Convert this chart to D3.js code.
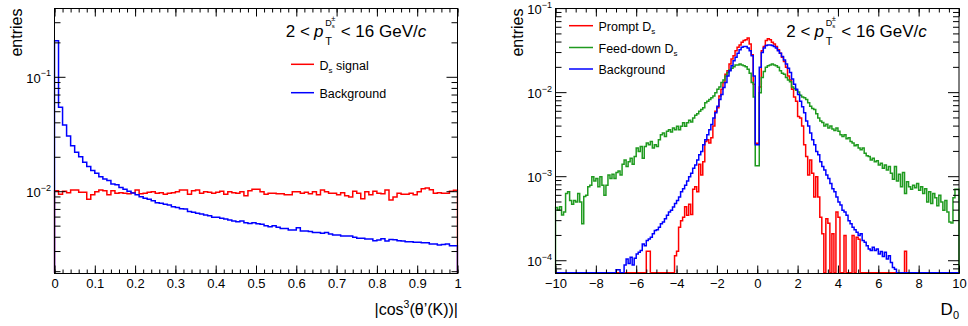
<!DOCTYPE html>
<html><head><meta charset="utf-8">
<script src="https://cdn.jsdelivr.net/npm/d3@7"></script>
<style>
body{margin:0;background:#fff}
svg{display:block;font-family:"Liberation Sans",Arial,Helvetica,sans-serif}
</style></head><body>
<svg id="c" width="968" height="326"></svg>
<script>
// ---------------- DATA ----------------
// Left panel: |cos^3(theta'(K))|, 100 bins in [0,1]
const leftXDomain = [0, 1];
const leftSignal = [
 0.0102,0.0095,0.0101,0.0098,0.01035,0.01035,0.0099,0.0099,0.0086,0.0094,
 0.0100,0.01035,0.0102,0.0094,0.0102,0.0097,0.0098,0.0097,0.0096,0.0098,
 0.01035,0.0096,0.0097,0.0099,0.0100,0.0097,0.0098,0.0095,0.0097,0.0098,
 0.0100,0.01035,0.01035,0.0095,0.0102,0.01035,0.0097,0.0100,0.0099,0.0097,
 0.0099,0.0101,0.0095,0.0100,0.0098,0.0097,0.0100,0.0092,0.0102,0.0105,
 0.0105,0.0100,0.0095,0.0097,0.0097,0.0096,0.0096,0.0094,0.0094,0.0100,
 0.0100,0.0097,0.0099,0.0096,0.0100,0.0094,0.01035,0.0100,0.0097,0.0097,
 0.0094,0.0098,0.0092,0.0090,0.0101,0.0097,0.0087,0.0100,0.0094,0.0101,
 0.0097,0.0096,0.01035,0.00845,0.0090,0.0097,0.0095,0.0095,0.0097,0.0094,
 0.0100,0.0106,0.0108,0.0104,0.0097,0.0098,0.0097,0.0097,0.0101,0.0103
];
const leftBackground = [
 0.209,0.0547,0.0383,0.0307,0.0252,0.0221,0.0202,0.0181,0.0166,0.0153,
 0.0145,0.0135,0.0129,0.0125,0.0117,0.0115,0.0109,0.0105,0.0101,0.00975,
 0.0094,0.00905,0.00875,0.00858,0.00835,0.0080,0.00794,0.00776,0.00766,0.0074,
 0.00726,0.00711,0.00707,0.0067,0.0066,0.00647,0.00638,0.00625,0.00617,0.00597,
 0.00597,0.00585,0.00577,0.00565,0.00554,0.00547,0.00554,0.00536,0.00528,0.00536,
 0.00525,0.0052,0.00505,0.00494,0.00505,0.00488,0.00478,0.00478,0.00463,0.00463,
 0.00484,0.00453,0.00453,0.00448,0.00439,0.00439,0.00433,0.00439,0.00428,0.00418,
 0.00418,0.0041,0.0041,0.0041,0.00399,0.00391,0.00391,0.00386,0.00386,0.00373,
 0.00378,0.00388,0.00371,0.00383,0.0038,0.00373,0.0037,0.00366,0.00366,0.00361,
 0.00361,0.00358,0.00358,0.00349,0.00349,0.00342,0.00345,0.00349,0.00337,0.00337
];
const leftXTicks = [0,0.1,0.2,0.3,0.4,0.5,0.6,0.7,0.8,0.9,1];
const leftXTickLabels = ["0","0.1","0.2","0.3","0.4","0.5","0.6","0.7","0.8","0.9","1"];
const leftYDomain = [0.001928, 0.3994];
const leftYTicks = [0.01, 0.1];
const leftYTickExponents = ["\u22122", "\u22121"];

// Right panel: D0, 200 bins in [-10,10] (rows of 10 bins, starting at -10.0, -9.0, ...)
const rightXDomain = [-10, 10];
const rightPrompt = [
 0,0,0,0,0,0,0,0,0,0,
 0,0,0,0,0,0,0,0,0,0,
 0,0,0,0,0,0,0,0,0,0,
 0,0,0,0,0,0,0,0,0,0,
 0,0,0,0,0,1.3e-4,1.3e-4,0,0,0,
 0,0,0,0,0,0,0,0,0,1.15e-4,
 1.3e-4,2.5e-4,3.0e-4,3.3e-4,4.4e-4,3.47e-4,4.7e-4,3.55e-4,7.1e-4,7.6e-4,
 6.6e-4,1.41e-3,1.05e-3,1.51e-3,2.63e-3,2.75e-3,2.51e-3,2.9e-3,4.0e-3,6.0e-3,
 6.6e-3,9.1e-3,1.1e-2,1.32e-2,1.66e-2,1.82e-2,2.19e-2,2.51e-2,2.75e-2,3.16e-2,
 3.47e-2,3.7e-2,3.98e-2,4.17e-2,4.27e-2,4.47e-2,3.8e-2,2.82e-2,1.26e-2,2.5e-3,
 2.5e-3,1.17e-2,3.16e-2,3.55e-2,4.17e-2,4.37e-2,4.27e-2,3.98e-2,3.8e-2,3.55e-2,
 3.24e-2,2.95e-2,2.63e-2,2.34e-2,2.0e-2,1.58e-2,1.41e-2,1.1e-2,8.9e-3,7.9e-3,
 5.2e-3,5.0e-3,4.0e-3,2.4e-3,1.74e-3,1.05e-3,1.58e-3,1.1e-3,5.75e-4,1.0e-3,
 5.75e-4,3.3e-4,2.1e-4,0,3.16e-4,2.8e-4,0,2.1e-4,0,3.8e-4,
 3.3e-4,0,0,2.0e-4,0,0,0,2.0e-4,0,1.9e-4,
 1.8e-4,0,0,0,0,0,0,0,0,0,
 0,0,0,0,0,0,0,0,0,0,
 0,0,0,1.3e-4,0,0,0,0,0,0,
 0,0,0,0,0,0,0,0,0,0,
 0,0,0,0,0,0,0,0,0,0
];
const rightFeedDown = [
 4.3e-4,4.0e-4,4.4e-4,3.5e-4,3.8e-4,6.3e-4,6.6e-4,5.2e-4,4.7e-4,5.2e-4,
 5.0e-4,6.3e-4,5.0e-4,2.75e-4,5.8e-4,6.0e-4,7.6e-4,7.9e-4,1.0e-3,8.9e-4,
 9.5e-4,7.6e-4,1.0e-3,7.9e-4,6.0e-4,7.9e-4,1.05e-3,9.5e-4,1.07e-3,9.5e-4,
 1.12e-3,1.17e-3,1.05e-3,1.41e-3,1.58e-3,1.32e-3,1.51e-3,1.66e-3,1.41e-3,1.74e-3,
 2.19e-3,2.0e-3,2.29e-3,1.66e-3,2.29e-3,2.51e-3,2.4e-3,2.63e-3,2.19e-3,2.4e-3,
 2.29e-3,2.75e-3,3.16e-3,3.3e-3,3.0e-3,3.47e-3,3.63e-3,3.4e-3,3.8e-3,3.63e-3,
 3.98e-3,3.63e-3,3.98e-3,4.37e-3,3.98e-3,4.37e-3,4.68e-3,4.47e-3,5.0e-3,5.37e-3,
 5.62e-3,6.0e-3,6.3e-3,6.6e-3,7.6e-3,7.9e-3,8.3e-3,8.7e-3,9.1e-3,1.0e-2,
 1.1e-2,1.17e-2,1.32e-2,1.41e-2,1.58e-2,1.74e-2,1.86e-2,1.95e-2,2.04e-2,2.14e-2,
 2.14e-2,2.19e-2,2.14e-2,2.09e-2,2.04e-2,1.9e-2,1.7e-2,1.32e-2,8.9e-3,1.35e-3,
 1.35e-3,1.0e-2,1.51e-2,1.78e-2,2.0e-2,2.09e-2,2.14e-2,2.19e-2,2.14e-2,2.09e-2,
 2.0e-2,1.82e-2,1.7e-2,1.66e-2,1.51e-2,1.41e-2,1.35e-2,1.17e-2,1.12e-2,1.07e-2,
 1.02e-2,9.3e-3,8.9e-3,8.7e-3,8.3e-3,7.6e-3,6.9e-3,6.5e-3,6.3e-3,5.6e-3,
 5.0e-3,4.6e-3,4.4e-3,4.0e-3,4.2e-3,3.8e-3,4.0e-3,3.7e-3,3.55e-3,3.8e-3,
 3.47e-3,3.16e-3,3.0e-3,3.16e-3,2.82e-3,2.9e-3,2.63e-3,2.51e-3,2.34e-3,2.4e-3,
 2.19e-3,2.09e-3,2.19e-3,1.9e-3,1.78e-3,1.74e-3,1.58e-3,1.66e-3,1.51e-3,1.55e-3,
 1.38e-3,1.45e-3,1.26e-3,1.38e-3,1.2e-3,1.32e-3,1.1e-3,9.3e-4,1.32e-3,8.9e-4,
 1.07e-3,7.6e-4,1.12e-3,6.3e-4,8.7e-4,7.6e-4,7.1e-4,7.9e-4,7.4e-4,8.3e-4,
 6.9e-4,7.6e-4,6.3e-4,7.2e-4,5.0e-4,6.6e-4,4.8e-4,6.3e-4,5.6e-4,4.5e-4,
 6.0e-4,5.0e-4,4.0e-4,5.2e-4,3.8e-4,2.9e-4,2.82e-4,5.6e-4,7.1e-4,7.1e-4
];
const rightBackground = [
 0,0,0,0,0,0,0,0,0,0,
 0,0,0,0,0,0,0,0,0,0,
 0,0,0,0,0,0,0,0,0,0,
 7.8e-5,7.8e-5,0,0,8.9e-5,1.05e-4,9.3e-5,1.1e-4,8.9e-5,1.07e-4,
 1.2e-4,1.26e-4,1.32e-4,1.58e-4,1.51e-4,1.74e-4,1.82e-4,1.9e-4,2.09e-4,2.29e-4,
 2.34e-4,2.51e-4,2.75e-4,2.9e-4,3.16e-4,3.47e-4,3.8e-4,4.0e-4,4.37e-4,4.8e-4,
 5.2e-4,5.75e-4,6.6e-4,7.2e-4,7.9e-4,8.9e-4,1.0e-3,1.1e-3,1.26e-3,1.38e-3,
 1.58e-3,1.82e-3,2.0e-3,2.4e-3,2.75e-3,3.16e-3,3.63e-3,4.17e-3,5.0e-3,5.75e-3,
 6.9e-3,8.3e-3,9.5e-3,1.15e-2,1.32e-2,1.58e-2,1.82e-2,2.09e-2,2.4e-2,2.63e-2,
 2.95e-2,3.24e-2,3.47e-2,3.55e-2,3.55e-2,3.4e-2,3.16e-2,2.75e-2,1.58e-2,2.4e-3,
 2.4e-3,2.0e-2,3.0e-2,3.4e-2,3.63e-2,3.7e-2,3.7e-2,3.63e-2,3.55e-2,3.4e-2,
 3.16e-2,2.95e-2,2.7e-2,2.45e-2,2.19e-2,1.95e-2,1.74e-2,1.45e-2,1.26e-2,1.1e-2,
 9.5e-3,7.9e-3,6.8e-3,5.75e-3,4.6e-3,4.0e-3,3.3e-3,2.75e-3,2.4e-3,2.0e-3,
 1.82e-3,1.51e-3,1.32e-3,1.2e-3,1.05e-3,9.5e-4,8.3e-4,7.2e-4,6.6e-4,5.75e-4,
 5.0e-4,4.6e-4,4.0e-4,3.8e-4,3.47e-4,3.0e-4,2.75e-4,2.51e-4,2.34e-4,2.19e-4,
 2.0e-4,2.09e-4,1.74e-4,1.66e-4,1.51e-4,1.38e-4,1.32e-4,1.45e-4,1.32e-4,1.38e-4,
 1.2e-4,1.29e-4,1.12e-4,1.26e-4,1.05e-4,1.15e-4,9.5e-5,8.3e-5,7.9e-5,0,
 0,0,0,0,0,0,0,0,0,0,
 0,0,0,0,0,0,0,0,0,0,
 0,0,0,0,0,0,0,0,0,0
];
const rightXTicks = [-10,-8,-6,-4,-2,0,2,4,6,8,10];
const rightXTickLabels = ["\u221210","\u22128","\u22126","\u22124","\u22122","0","2","4","6","8","10"];
const rightYDomain = [7.05e-5, 0.1003];
const rightYTicks = [1e-4, 1e-3, 1e-2, 1e-1];
const rightYTickExponents = ["\u22124","\u22123","\u22122","\u22121"];

// ---------------- DRAWING ----------------
const svg = d3.select('#c');
const FONT = 13;

function histPath(values, x, y, xDom, yMin) {
  const n = values.length, w = (xDom[1] - xDom[0]) / n;
  const base = y(yMin) - 0.8;
  const yv = v => v > yMin ? y(v) : base;
  const p = d3.path();
  p.moveTo(x(xDom[0]), base);
  values.forEach((v, i) => {
    p.lineTo(x(xDom[0] + i * w), yv(v));
    p.lineTo(x(xDom[0] + (i + 1) * w), yv(v));
  });
  p.lineTo(x(xDom[1]), base);
  return p.toString();
}

function drawPanel(o) {
  const g = svg.append('g');
  const x = d3.scaleLinear().domain(o.xDomain).range([o.left, o.right]);
  const y = d3.scaleLog().domain(o.yDomain).range([o.bottom, o.top]);
  const clipId = o.id + '-clip';
  svg.append('clipPath').attr('id', clipId).append('rect')
    .attr('x', o.left - 1).attr('y', o.top).attr('width', o.right - o.left + 2).attr('height', o.bottom - o.top + 1);

  // histograms
  o.series.forEach(s => {
    g.append('path').attr('d', histPath(s.values, x, y, o.xDomain, o.yDomain[0]))
      .attr('fill', 'none').attr('stroke', s.color).attr('stroke-width', 1.5)
      .attr('stroke-linejoin', 'miter').attr('clip-path', `url(#${clipId})`);
  });

  // frame
  g.append('rect').attr('x', o.left).attr('y', o.top).attr('width', o.right - o.left).attr('height', o.bottom - o.top)
    .attr('fill', 'none').attr('stroke', '#000').attr('stroke-width', 1);

  // x ticks (bottom + top) via d3 axes
  const axes = [
    [d3.axisBottom(x), o.bottom], [d3.axisTop(x), o.top]
  ];
  axes.forEach(([ax, yy], k) => {
    const gm = g.append('g').attr('transform', `translate(0,${yy})`)
      .call(ax.tickValues(o.xMinor).tickSize(-4).tickFormat(''));
    gm.select('.domain').remove();
    const gM = g.append('g').attr('transform', `translate(0,${yy})`)
      .call((k === 0 ? d3.axisBottom(x) : d3.axisTop(x)).tickValues(o.xTicks).tickSize(-8).tickPadding(5)
        .tickFormat((d, i) => k === 0 ? o.xTickLabels[i] : ''));
    gM.select('.domain').remove();
    gM.selectAll('text').attr('font-size', FONT).attr('fill', '#000').attr('font-family', 'Liberation Sans, Arial, sans-serif');
  });
  g.selectAll('.tick line').attr('stroke', '#000');

  // y ticks (log) left + right
  const yt = y.ticks();
  yt.forEach(v => {
    const major = Math.abs(Math.log10(v) - Math.round(Math.log10(v))) < 1e-9;
    const len = major ? 11 : 6;
    const yy = y(v);
    g.append('line').attr('x1', o.left).attr('x2', o.left + len).attr('y1', yy).attr('y2', yy).attr('stroke', '#000');
    g.append('line').attr('x1', o.right).attr('x2', o.right - len).attr('y1', yy).attr('y2', yy).attr('stroke', '#000');
  });
  o.yTicks.forEach((v, i) => {
    const t = g.append('text').attr('x', o.left - 3.5).attr('y', y(v) + 5.5)
      .attr('text-anchor', 'end').attr('font-size', FONT);
    t.append('tspan').text('10');
    t.append('tspan').attr('font-size', 9).attr('dy', -6.5).text(o.yTickExponents[i]);
  });

  // y title
  svg.append('text').attr('transform', `translate(${o.yTitleX},${o.top})rotate(-90)`)
    .attr('text-anchor', 'end').attr('font-size', 16).text('entries');

  return { x, y, g };
}

function ptLabel(x0, y0) {
  const g = svg.append('g').attr('transform', `translate(${x0},${y0})`);
  g.append('text').attr('x', 0).attr('y', 0).attr('font-size', 17).text('2 <');
  g.append('text').attr('x', 28.3).attr('y', 0).attr('font-size', 17).attr('font-style', 'italic').text('p');
  g.append('text').attr('x', 39.5).attr('y', 8).attr('font-size', 11).text('T');
  g.append('text').attr('x', 39.5).attr('y', -11).attr('font-size', 9).text('D');
  g.append('text').attr('x', 46).attr('y', -9).attr('font-size', 6).text('s');
  g.append('text').attr('x', 45.5).attr('y', -16).attr('font-size', 7.5).text('\u00b1');
  const t = g.append('text').attr('x', 55).attr('y', 0).attr('font-size', 17);
  t.append('tspan').text('< 16 GeV/');
  t.append('tspan').attr('font-style', 'italic').text('c');
}

function legendEntry(x1, x2, yLine, yText, color, main, subTxt, after) {
  svg.append('line').attr('x1', x1).attr('x2', x2).attr('y1', yLine).attr('y2', yLine)
    .attr('stroke', color).attr('stroke-width', 1.5);
  const t = svg.append('text').attr('x', x2 + 5.5).attr('y', yText).attr('font-size', 12.5);
  t.append('tspan').text(main);
  if (subTxt) {
    t.append('tspan').attr('font-size', 8).attr('dy', 3).text(subTxt);
    if (after) t.append('tspan').attr('dy', -3).text(after);
  }
}

const RED = '#ff0000', BLUE = '#0000ff', GREEN = '#1f9a1f';

// Left panel
const L = drawPanel({
  id: 'left', left: 54.5, right: 457.5, top: 8.5, bottom: 273.5,
  xDomain: leftXDomain, yDomain: leftYDomain,
  xTicks: leftXTicks, xTickLabels: leftXTickLabels, xMinor: d3.range(0, 1.0001, 0.02),
  yTicks: leftYTicks, yTickExponents: leftYTickExponents, yTitleX: 22,
  series: [{ values: leftSignal, color: RED }, { values: leftBackground, color: BLUE }]
});
// Right panel
const R = drawPanel({
  id: 'right', left: 555.5, right: 959, top: 8.5, bottom: 273.5,
  xDomain: rightXDomain, yDomain: rightYDomain,
  xTicks: rightXTicks, xTickLabels: rightXTickLabels, xMinor: d3.range(-10, 10.0001, 0.5),
  yTicks: rightYTicks, yTickExponents: rightYTickExponents, yTitleX: 523,
  series: [{ values: rightPrompt, color: RED }, { values: rightFeedDown, color: GREEN }, { values: rightBackground, color: BLUE }]
});

// x titles
const xt = svg.append('text').attr('x', 458).attr('y', 315).attr('text-anchor', 'end').attr('font-size', 16);
xt.append('tspan').text('|cos');
xt.append('tspan').attr('font-size', 10.5).attr('dy', -7).text('3');
xt.append('tspan').attr('dy', 7).text('(\u03b8\u2019(K))|');
const xr = svg.append('text').attr('x', 959).attr('y', 315).attr('text-anchor', 'end').attr('font-size', 17);
xr.append('tspan').text('D');
xr.append('tspan').attr('font-size', 11).attr('dy', 4).text('0');

// pT labels
ptLabel(285.7, 37);
ptLabel(786.3, 37);

// legends
legendEntry(291, 314, 64.3, 70, RED, 'D', 's', ' signal');
legendEntry(291, 314, 92.7, 97.5, BLUE, 'Background');
legendEntry(569, 593, 25.7, 30.5, RED, 'Prompt D', 's');
legendEntry(569, 593, 47.5, 52.5, GREEN, 'Feed-down D', 's');
legendEntry(569, 593, 69, 74, BLUE, 'Background');
</script>
</body></html>
